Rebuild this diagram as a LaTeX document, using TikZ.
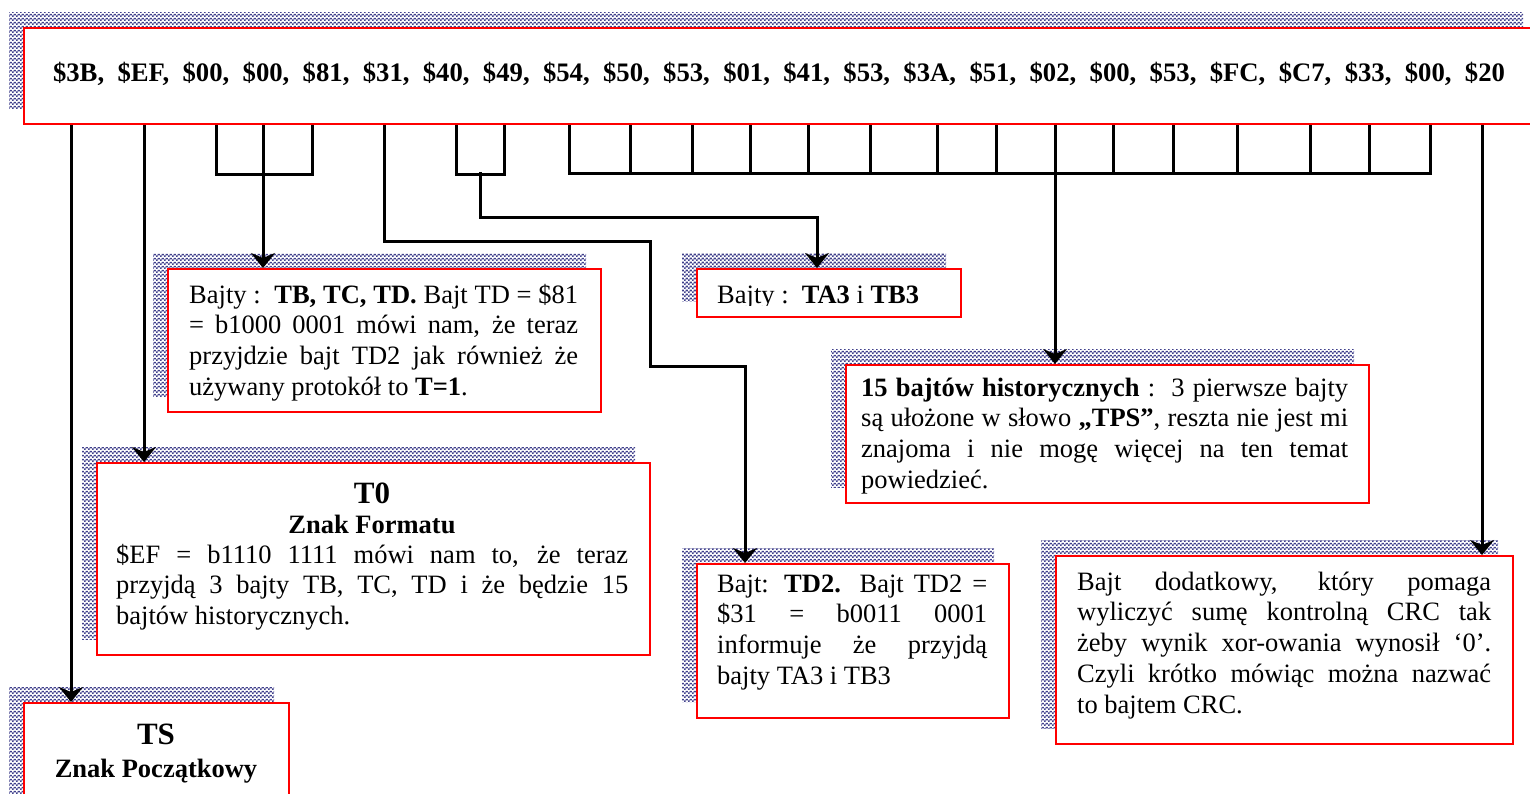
\documentclass[tikz,border=0pt]{standalone}
\usepackage{fontspec}
\setmainfont{Liberation Serif}
\usetikzlibrary{arrows.meta,patterns.meta,shadows}

\definecolor{shadowblue}{RGB}{64,64,140}
\definecolor{boxred}{RGB}{255,0,0}

% fine checkerboard used for the box shadows
\tikzdeclarepattern{
  name=checker,
  type=colored,
  bottom left={(0pt,0pt)},
  top right={(4pt,4pt)},
  tile size={(4pt,4pt)},
  code={
    \pgfsetfillcolor{shadowblue}
    \pgfpathrectangle{\pgfpointorigin}{\pgfpoint{2pt}{2pt}}
    \pgfpathrectangle{\pgfpoint{2pt}{2pt}}{\pgfpoint{2pt}{2pt}}
    \pgfusepath{fill}
  }
}

% justified line and last (ragged) line of a text block; \bw is the block width.
% Interword spaces are reset to the font's own (stretchable) glue.
\def\bw{100pt}
\newcommand\jln[1]{\makebox[\bw][s]{\spaceskip=0pt\xspaceskip=0pt\rule{0pt}{22pt}#1}\\}
\newcommand\pln[1]{\hbox{\spaceskip=0pt\xspaceskip=0pt\rule{0pt}{22pt}#1}}

\tikzset{
  box/.style={draw=boxred, line width=2pt, fill=white, inner sep=0pt,
    anchor=north west,
    general shadow={shadow xshift=-15pt, shadow yshift=16pt, pattern=checker}},
  wire/.style={line width=3pt, line join=miter},
  arrow/.style={wire, -{Stealth[length=15pt,width=24pt,inset=5pt]}},
  body/.style={font=\fontsize{26.5}{30.7}\selectfont, inner sep=0pt,
    anchor=north west, align=left},
  para/.style={body, text width=#1, execute at begin node={\def\bw{#1}}},
  title/.style={font=\fontsize{31}{36}\selectfont\bfseries, inner sep=0pt, anchor=base},
  subtitle/.style={font=\fontsize{26.5}{30.7}\selectfont\bfseries, inner sep=0pt, anchor=base},
  bytes/.style={font=\fontsize{26.7}{30}\selectfont\bfseries, inner sep=0pt, anchor=base},
}

\begin{document}
\begin{tikzpicture}[x=1pt,y=-1pt]
\useasboundingbox (0,0) rectangle (1530,793);
\clip (0,0) rectangle (1530,793);

% framed boxes with their shadows
\node[box, minimum width=1514pt, minimum height=96pt]  (atr)  at (23,27)   {};
\node[box, minimum width=433pt,  minimum height=143pt] (tbox) at (167,268) {};
\node[box, minimum width=264pt,  minimum height=48pt]  (abox) at (696,268) {};
\node[box, minimum width=523pt,  minimum height=138pt] (hbox) at (845,364) {};
\node[box, minimum width=553pt,  minimum height=192pt] (fbox) at (96,462)  {};
\node[box, minimum width=312pt,  minimum height=154pt] (dbox) at (696,563) {};
\node[box, minimum width=457pt,  minimum height=188pt] (cbox) at (1055,555) {};
\node[box, minimum width=265pt,  minimum height=110pt] (sbox) at (23,702)  {};

% the ATR byte string
\node[bytes] (vals) at (779,81) {\$3B,~~\$EF,~~\$00,~~\$00,~~\$81,~~\$31,~~\$40,~~\$49,~~\$54,~~\$50,~~\$53,~~\$01,~~\$41,~~\$53,~~\$3A,~~\$51,~~\$02,~~\$00,~~\$53,~~\$FC,~~\$C7,~~\$33,~~\$00,~~\$20};

% drop points under the byte string
\foreach \n/\x in {ts/71, t0/144, tb/216, tc/263, td/312, tdd/384, ta/456, tbb/504, hist/1055, crc/1482}
  \path (atr.south west -| \x,0) coordinate (p-\n);

% TS and T0
\draw[arrow] (p-ts) -- (p-ts |- sbox.north);
\draw[arrow] (p-t0) -- (p-t0 |- fbox.north);

% TB, TC, TD
\draw[wire] (p-tb) -- ++(0,49) -| (p-td);
\draw[arrow] (p-tc) -- (p-tc |- tbox.north);

% TD2
\draw[arrow] (p-tdd) |- (650,241) |- (745,366) -- (745,0 |- dbox.north);

% TA3, TB3
\draw[wire] (p-ta) -- ++(0,49) -| (p-tbb);
\draw[arrow] (480,172) |- (817,217) -- (817,0 |- abox.north);

% 15 historical bytes
\draw[wire] (atr.south west -| 569,0) -- (569,173) -- (1430,173) -- (atr.south west -| 1430,0);
\foreach \x in {630,692,750,808,870,937,996,1113,1173,1237,1310,1369}
  \draw[wire] (atr.south west -| \x,0) -- (\x,173);
\draw[arrow] (p-hist) -- (p-hist |- hbox.north);

% TCK
\draw[arrow] (p-crc) -- (p-crc |- cbox.north);

% box texts
\node[para=389pt] (ttext) at (189,281) {%
\jln{Bajty :~~\textbf{TB, TC, TD.} Bajt TD = \$81}
\jln{= b1000 0001 mówi nam, że teraz}
\jln{przyjdzie bajt TD2 jak również że}
\pln{używany protokół to \textbf{T=1}.}};

\begin{scope}
\clip (696,268) rectangle (960,305);
\node[body, anchor=base west] (atext) at (717,303) {\pln{Bajty :~~\textbf{TA3} i \textbf{TB3}}};
\end{scope}

\node[para=487pt] (htext) at (861,374) {%
\jln{\textbf{15 bajtów historycznych} :~~3 pierwsze bajty}
\jln{są ułożone w słowo \textbf{„TPS”}, reszta nie jest mi}
\jln{znajoma i nie mogę więcej na ten temat}
\pln{powiedzieć.}};

\node[title] (ftitle) at (372,503) {T0};
\node[subtitle] (fsub) at (372,533) {Znak Formatu};
\node[para=512pt] (ftext) at (116,541) {%
\jln{\$EF = b1110 1111 mówi nam to, że teraz}
\jln{przyjdą 3 bajty TB, TC, TD i że będzie 15}
\pln{bajtów historycznych.}};

\node[para=270pt] (dtext) at (717,570) {%
\jln{Bajt: \textbf{TD2.} Bajt TD2 =}
\jln{\$31 = b0011 0001}
\jln{informuje że przyjdą}
\pln{bajty TA3 i TB3}};

\node[para=414pt] (ctext) at (1077,568) {%
\jln{Bajt dodatkowy, który pomaga}
\jln{wyliczyć sumę kontrolną CRC tak}
\jln{żeby wynik xor-owania wynosił ‘0’.}
\jln{Czyli krótko mówiąc można nazwać}
\pln{to bajtem CRC.}};

\node[title] (stitle) at (156,744) {TS};
\node[subtitle] (ssub) at (156,777) {Znak Początkowy};
\end{tikzpicture}
\end{document}
